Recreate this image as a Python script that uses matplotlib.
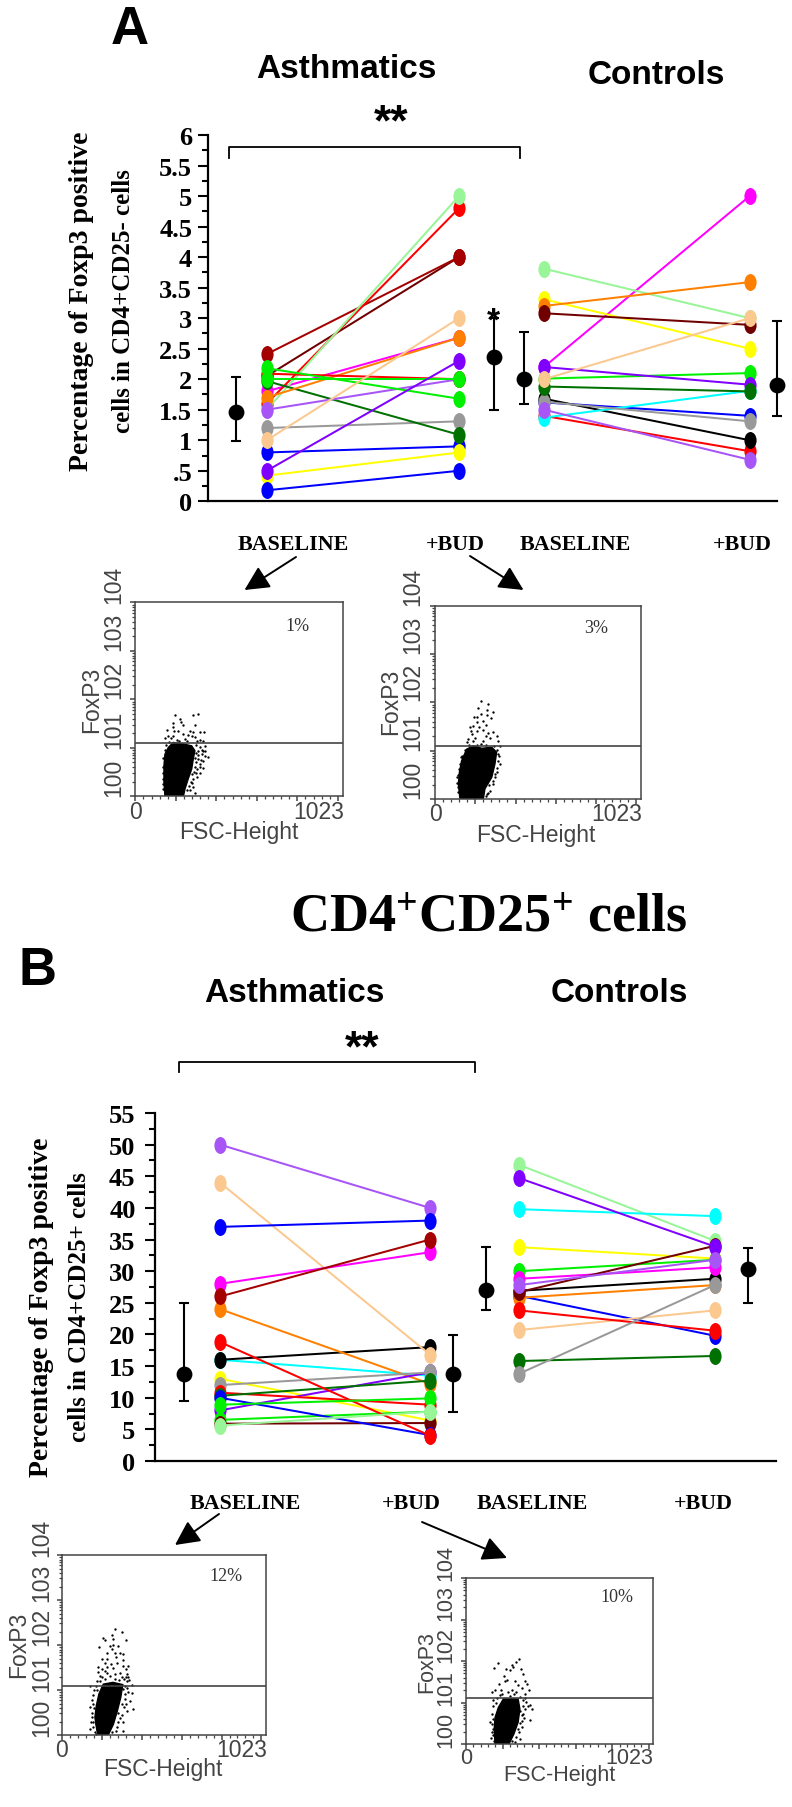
import matplotlib
matplotlib.use("Agg")
import matplotlib.pyplot as plt
from matplotlib.markers import MarkerStyle
from matplotlib.path import Path
from matplotlib.transforms import Affine2D

W, H = 792, 1808

plt.rcParams["mathtext.fontset"] = "custom"
plt.rcParams["mathtext.rm"] = "Liberation Serif:bold"
plt.rcParams["mathtext.bf"] = "Liberation Serif:bold"

SERIF = "Liberation Serif"
SANS = "Liberation Sans"
INK = "#444444"

# colours used for the subject lines
BLUE = "#0000ff"
LIME = "#00f000"
PALE = "#98f598"
DKRED = "#a50000"
MAROON = "#700000"
RED = "#ff0000"
CYAN = "#00ffff"
YEL = "#ffff00"
ORG = "#ff8000"
MAG = "#ff00ff"
PUR = "#8000ff"
MPUR = "#a855f7"
GRY = "#999999"
PEACH = "#fbc88f"
BLK = "#000000"
DKGRN = "#007000"

# ------------------------------------------------------------
# panel A, CD4+CD25- cells (list order = draw order)
# ------------------------------------------------------------
A_ASTHMA_COLORS = [GRY, BLUE, YEL, MAG, MAROON, DKRED, RED, PALE, DKGRN, ORG, MPUR, RED, LIME, LIME, PEACH, PUR, BLUE]
A_ASTHMA_BASE = [1.2, 0.8, 0.42, 1.8, 2.05, 2.41, 1.6, 1.5, 1.97, 1.7, 1.5, 2.09, 2.0, 2.18, 1.0, 0.5, 0.18]
A_ASTHMA_BUD = [1.31, 0.9, 0.8, 2.68, 4.0, 4.0, 4.8, 5.0, 1.09, 2.68, 2.0, 2.0, 2.0, 1.68, 3.0, 2.3, 0.5]

A_CTRL_COLORS = [MAG, PALE, YEL, ORG, MAROON, LIME, BLUE, RED, BLK, CYAN, GRY, MPUR, PUR, DKGRN, PEACH]
A_CTRL_BASE = [2.2, 3.81, 3.31, 3.2, 3.08, 2.01, 1.62, 1.4, 1.68, 1.37, 1.63, 1.5, 2.2, 1.88, 2.0]
A_CTRL_BUD = [5.0, 3.0, 2.5, 3.59, 2.89, 2.1, 1.4, 0.82, 1.0, 1.81, 1.31, 0.68, 1.91, 1.8, 3.0]

# mean, low, high for baseline/bud in each group
A_MEANS = [1.47, 2.36, 2.0, 1.91]
A_LOW = [0.98, 1.5, 1.59, 1.39]
A_HIGH = [2.03, 3.0, 2.78, 2.96]
A_TICKS = [0, 0.5, 1, 1.5, 2, 2.5, 3, 3.5, 4, 4.5, 5, 5.5, 6]
A_TICK_LABELS = ["0", ".5", "1", "1.5", "2", "2.5", "3", "3.5", "4", "4.5", "5", "5.5", "6"]

# ------------------------------------------------------------
# panel B, CD4+CD25+ cells
# ------------------------------------------------------------
B_ASTHMA_COLORS = [YEL, CYAN, BLK, PEACH, ORG, PUR, GRY, RED, DKGRN, MPUR, BLUE, MAG, DKRED, LIME, MAROON, BLUE, RED, LIME, PALE]
B_ASTHMA_BASE = [13, 16, 16, 44, 24, 8, 12, 10.8, 10.3, 50, 37, 28, 26, 6.5, 5.9, 10, 18.8, 8.9, 5.6]
B_ASTHMA_BUD = [6.4, 13.5, 18, 16.8, 12.2, 14, 14, 8.9, 12.7, 40, 38, 33, 35, 7.8, 6, 4.1, 4, 9.9, 7.8]

B_CTRL_COLORS = [PALE, CYAN, YEL, LIME, BLUE, ORG, PEACH, BLK, MAG, MAROON, PUR, MPUR, RED, DKGRN, GRY]
B_CTRL_BASE = [46.8, 39.8, 33.8, 30, 26.1, 25.8, 20.7, 26.9, 28.8, 26.7, 44.7, 27.8, 23.8, 15.8, 13.8]
B_CTRL_BUD = [34.8, 38.7, 32, 31.8, 19.8, 27.8, 23.8, 28.8, 30.6, 34, 33.9, 31.8, 20.6, 16.6, 27.8]

B_MEANS = [13.75, 13.75, 27, 30.3]
B_LOW = [9.5, 7.7, 23.9, 25]
B_HIGH = [25, 19.9, 33.8, 33.6]
B_TICKS = list(range(0, 60, 5))
B_TICK_LABELS = [str(v) for v in B_TICKS]

# ------------------------------------------------------------
# flow plots: FSC channel and FoxP3 decade
# dense core outline + the loose dots around it, read by eye
# ------------------------------------------------------------
AL_CORE = [(146, 0), (141, 0.29), (141, 0.63), (146, 0.87), (163, 1.01), (187, 1.11), (237, 1.08),
           (278, 1.04), (294, 0.94), (286, 0.77), (278, 0.56), (261, 0.36), (245, 0.15), (237, 0)]
AL_DOTS = [(197, 1.68), (286, 1.68), (311, 1.70), (220, 1.59), (225, 1.54), (187, 1.51), (237, 1.47),
           (294, 1.46), (184, 1.42), (191, 1.35), (154, 1.37), (212, 1.34), (270, 1.34), (286, 1.32),
           (319, 1.32), (340, 1.32), (237, 1.28), (163, 1.24), (187, 1.25), (261, 1.26), (278, 1.24),
           (294, 1.22), (146, 1.20), (174, 1.20), (245, 1.18), (319, 1.17), (204, 1.17), (332, 1.13),
           (253, 1.15), (303, 1.13), (344, 1.04), (319, 1.01), (335, 0.94), (360, 0.82), (327, 0.87),
           (344, 0.84), (311, 0.77), (319, 0.67), (332, 0.58), (303, 0.56), (319, 0.49), (286, 0.36),
           (303, 0.39), (266, 0.22), (286, 0.19), (253, 0.12), (294, 0.07), (135, 0.25), (138, 0.15),
           (144, 0.70), (135, 0.49), (311, 0.94), (294, 0.80), (319, 0.60), (278, 0.46),
           (300, 0.90), (308, 0.85), (300, 0.70), (295, 0.60), (300, 0.48), (288, 0.50), (275, 0.30),
           (270, 0.12), (280, 0.28), (322, 0.75), (332, 0.72), (330, 0.95), (345, 0.93), (136, 0.36),
           (135, 0.60), (136, 0.78), (148, 0.95), (152, 1.05), (168, 1.12), (215, 1.13), (300, 1.05)]

AR_CORE = [(124, 0), (116, 0.31), (121, 0.55), (132, 0.79), (157, 1.03), (190, 1.10), (232, 1.05),
           (282, 1.07), (306, 0.97), (298, 0.73), (282, 0.45), (248, 0.21), (240, 0)]
AR_DOTS = [(227, 2.02), (265, 1.96), (215, 1.88), (260, 1.85), (286, 1.81), (227, 1.76), (257, 1.74),
           (194, 1.69), (210, 1.69), (240, 1.61), (277, 1.67), (210, 1.59), (174, 1.50), (190, 1.52),
           (253, 1.53), (220, 1.50), (177, 1.41), (207, 1.41), (237, 1.43), (265, 1.37), (290, 1.39),
           (182, 1.35), (310, 1.31), (253, 1.30), (166, 1.24), (199, 1.26), (240, 1.21), (273, 1.26),
           (161, 1.17), (190, 1.19), (311, 1.19), (227, 1.14), (323, 1.10), (315, 0.93), (323, 0.73),
           (306, 0.55), (315, 0.79), (290, 0.31), (273, 0.17), (257, 0.10), (128, 0.86), (121, 0.62),
           (111, 0.45), (114, 0.24), (298, 0.45), (282, 0.62),
           (310, 1.02), (318, 0.88), (308, 0.65), (300, 0.52), (288, 0.38), (270, 0.30), (262, 0.12),
           (252, 0.06), (112, 0.15), (110, 0.33), (116, 0.50), (124, 0.72), (136, 0.90), (148, 1.02),
           (168, 1.12), (210, 1.12), (255, 1.12), (295, 1.10)]

BL_CORE = [(175, 0.10), (165, 0.39), (172, 0.65), (185, 0.91), (207, 1.13), (255, 1.17), (305, 1.12),
           (295, 0.84), (278, 0.54), (258, 0.24), (232, 0), (182, 0)]
BL_DOTS = [(265, 2.36), (302, 2.30), (252, 2.22), (207, 2.15), (257, 2.13), (319, 2.12), (215, 2.11),
           (185, 1.95), (240, 1.97), (257, 1.99), (282, 1.97), (252, 1.91), (227, 1.82), (265, 1.82),
           (290, 1.82), (307, 1.80), (269, 1.73), (224, 1.70), (199, 1.69), (304, 1.67), (215, 1.60),
           (244, 1.58), (277, 1.61), (182, 1.52), (199, 1.47), (227, 1.52), (257, 1.50), (307, 1.53),
           (332, 1.53), (320, 1.47), (182, 1.39), (215, 1.42), (290, 1.37), (324, 1.36), (332, 1.30),
           (190, 1.32), (240, 1.32), (265, 1.36), (299, 1.28), (190, 1.21), (215, 1.24), (324, 1.19),
           (349, 1.12), (140, 1.10), (174, 0.99), (307, 1.02), (332, 0.95), (349, 0.93), (148, 0.78),
           (157, 0.69), (315, 0.80), (340, 0.75), (354, 0.58), (299, 0.69), (148, 0.50), (282, 0.50),
           (324, 0.54), (157, 0.28), (140, 0.13), (304, 0.28), (304, 0.10), (274, 0.17), (165, 0.06),
           (320, 1.30), (310, 1.24), (335, 1.22), (318, 1.10), (328, 1.05), (315, 0.92), (322, 0.70),
           (310, 0.62), (300, 0.45), (292, 0.38), (280, 0.30), (270, 0.08), (250, 0.06), (160, 1.00),
           (168, 1.10), (178, 1.20), (200, 1.28), (228, 1.38), (265, 1.25), (285, 1.22), (155, 0.88),
           (160, 0.60), (152, 0.40), (155, 0.18), (168, 0.24), (142, 0.62), (145, 0.30), (170, 0.02)]

BR_CORE = [(159, 0), (154, 0.36), (159, 0.64), (177, 0.88), (205, 1.09), (285, 1.09), (295, 0.84),
           (285, 0.52), (262, 0.24), (235, 0), (168, 0)]
BR_DOTS = [(290, 2.06), (177, 1.95), (274, 1.97), (254, 1.91), (154, 1.82), (219, 1.81), (299, 1.81),
           (259, 1.85), (241, 1.78), (208, 1.63), (310, 1.69), (223, 1.55), (268, 1.53), (323, 1.53),
           (183, 1.45), (214, 1.51), (336, 1.45), (287, 1.41), (141, 1.25), (159, 1.29), (190, 1.31),
           (250, 1.31), (305, 1.34), (347, 1.29), (196, 1.20), (232, 1.25), (274, 1.26), (323, 1.20),
           (146, 1.07), (296, 1.13), (323, 1.10), (350, 0.94), (341, 0.92), (296, 0.80), (360, 0.84),
           (314, 0.72), (350, 0.59), (305, 0.56), (141, 0.72), (132, 0.52), (146, 0.36), (305, 0.40),
           (292, 0.28), (137, 0.14), (154, 0.08), (296, 0.11), (268, 0.04), (177, 0.16), (214, 0.04),
           (310, 1.05), (330, 1.02), (312, 0.92), (325, 0.85), (305, 0.70), (318, 0.62), (298, 0.50),
           (285, 0.35), (275, 0.18), (250, 0.08), (165, 1.00), (150, 0.92), (170, 1.12), (185, 1.18),
           (240, 1.15), (260, 1.20), (148, 0.60), (142, 0.48), (150, 0.22), (142, 0.30), (165, 0.05)]

DECADE_LABELS = ["100", "101", "102", "103", "104"]
GATE_DECADE = 1.10

# tall oval used for the subject markers
OVAL = Path.unit_circle().transformed(Affine2D().scale(0.72, 1.0))


def ax_at(fig, left, top, right, bottom):
    return fig.add_axes([left / W, 1 - bottom / H, (right - left) / W, (bottom - top) / H], facecolor="none")


def draw_group(ax, x0, x1, colors, base, bud):
    for c, a, b in zip(colors, base, bud):
        ax.plot([x0, x1], [a, b], color=c, lw=1.45, marker=MarkerStyle(OVAL), ms=12.2, mew=0,
                solid_capstyle="butt", clip_on=False)


def draw_main(ax, xlim, ylim, ticks, labels, minor, xs, means, lows, highs, pad):
    ax.set_xlim(*xlim)
    ax.set_ylim(*ylim)
    ax.set_xticks([])
    ax.set_yticks(ticks, labels, family=SERIF, weight="bold", fontsize=19)
    ax.set_yticks(minor, minor=True)
    ax.tick_params(axis="y", which="major", length=7, width=1.5, pad=pad)
    ax.tick_params(axis="y", which="minor", length=4.5, width=1.5)
    for s in ("top", "right"):
        ax.spines[s].set_visible(False)
    for s in ("left", "bottom"):
        ax.spines[s].set_linewidth(1.6)
    for x, m, lo, hi in zip(xs, means, lows, highs):
        ax.errorbar([x], [m], yerr=[[m - lo], [hi - m]], fmt="o", color="k", ms=10.4,
                    elinewidth=1.5, capsize=3.8, capthick=1.5, clip_on=False, zorder=5)


def draw_flow(fig, canvas, box, core, dots, pct, pct_xy, label_x, label_ys, fox_xy, zero_y, fsc_xy, fs):
    left, top, right, bottom = box
    ax = ax_at(fig, left, top, right, bottom)
    ax.set_xlim(0, 1023)
    ax.set_ylim(0, 4)
    ax.fill([p[0] for p in core], [p[1] for p in core], color="k", lw=1.0)
    ax.plot([p[0] for p in dots], [p[1] for p in dots], ls="none", marker="o", ms=1.7, mew=0, color="k")
    ax.axhline(GATE_DECADE, color=INK, lw=1.2)
    ax.set_xticks(range(0, 1024, 200))
    ax.set_xticks(range(0, 1024, 40), minor=True)
    ax.set_yticks(range(0, 5))
    decades = [d + s for d in range(4) for s in (0.30, 0.48, 0.60, 0.70, 0.78, 0.85, 0.90, 0.95)]
    ax.set_yticks(decades, minor=True)
    ax.tick_params(which="major", length=3.5, width=1.1, color=INK, labelleft=False, labelbottom=False)
    ax.tick_params(which="minor", length=2, width=0.9, color=INK)
    for s in ax.spines.values():
        s.set_linewidth(1.1)
        s.set_color(INK)

    txt = dict(family=SANS, color=INK, ha="center", va="center")
    for lab, y in zip(DECADE_LABELS, label_ys):
        canvas.text(label_x, y, lab, rotation=90, fontsize=fs, **txt)
    canvas.text(fox_xy[0], fox_xy[1], "FoxP3", rotation=90, fontsize=fs, **txt)
    canvas.text(left, zero_y, "0", fontsize=fs, **txt)
    canvas.text(right - 24, zero_y, "1023", fontsize=fs, **txt)
    canvas.text(fsc_xy[0], fsc_xy[1], "FSC-Height", fontsize=fs, **txt)
    canvas.text(pct_xy[0], pct_xy[1], pct, family=SERIF, fontsize=13, color="#333333", ha="center", va="center")


def bracket(canvas, x0, x1, y, tick):
    canvas.plot([x0, x0, x1, x1], [y + tick, y, y, y + tick], color="k", lw=1.3)


def arrow(canvas, start, tip):
    canvas.annotate("", xy=tip, xytext=start,
                    arrowprops=dict(arrowstyle="-|>,head_length=1.0,head_width=0.5", color="k", lw=1.4,
                                    shrinkA=0, shrinkB=0, mutation_scale=15))


def main():
    fig = plt.figure(figsize=(W / 100, H / 100), dpi=100, facecolor="white")

    canvas = fig.add_axes([0, 0, 1, 1])
    canvas.set_xlim(0, W)
    canvas.set_ylim(H, 0)
    canvas.axis("off")

    head = dict(family=SANS, weight="bold", ha="center", va="center", color="k")
    bold = dict(family=SERIF, weight="bold", ha="center", va="center", color="k")

    # ---------- panel A ----------
    canvas.text(130, 30, "A", fontsize=38, **head)
    canvas.text(346, 69, "Asthmatics", fontsize=24, **head)
    canvas.text(656, 75, "Controls", fontsize=24, **head)
    bracket(canvas, 229, 520, 148, 11)
    canvas.text(391, 124, "**", fontsize=32, **head)
    canvas.text(493, 322, "*", fontsize=24, **head)

    ax = ax_at(fig, 207.5, 136, 777, 502.3)
    draw_main(ax, (207.5, 777), (0, 6), A_TICKS, A_TICK_LABELS, [v * 0.25 for v in range(25)],
              [236, 493.7, 524.3, 777], A_MEANS, A_LOW, A_HIGH, 4)
    draw_group(ax, 266.7, 459, A_ASTHMA_COLORS, A_ASTHMA_BASE, A_ASTHMA_BUD)
    draw_group(ax, 544, 749.7, A_CTRL_COLORS, A_CTRL_BASE, A_CTRL_BUD)

    canvas.text(82, 301, "Percentage of Foxp3 positive", rotation=90, fontsize=20, **bold)
    canvas.text(123, 301, "cells in CD4+CD25- cells", rotation=90, fontsize=18, **bold)

    for x, lab in zip([293, 455, 575, 742], ["BASELINE", "+BUD", "BASELINE", "+BUD"]):
        canvas.text(x, 545, lab, fontsize=15.8, **bold)

    arrow(canvas, (296, 558), (244.5, 591))
    arrow(canvas, (470, 557), (523.5, 591))

    draw_flow(fig, canvas, (135.4, 603.3, 342.5, 797.3), AL_CORE, AL_DOTS, "1%", (297, 627),
              113.6, [778, 730, 680, 632, 585], (92, 700), 813, (238.6, 833), 16.5)
    draw_flow(fig, canvas, (435, 606.7, 641, 800), AR_CORE, AR_DOTS, "3%", (595.7, 629),
              413, [780, 732, 682, 635, 587], (391, 702), 815, (536, 836), 16.5)

    # ---------- panel B ----------
    canvas.text(489, 918, r"$\mathbf{CD4^{+}CD25^{+}}$ cells", fontsize=39, **bold)
    canvas.text(37, 971, "B", fontsize=38, **head)
    canvas.text(294, 994, "Asthmatics", fontsize=24, **head)
    canvas.text(619, 994, "Controls", fontsize=24, **head)
    bracket(canvas, 179, 475, 1062.7, 10)
    canvas.text(362, 1050, "**", fontsize=32, **head)

    ax = ax_at(fig, 155, 1114, 776, 1462)
    draw_main(ax, (155, 776), (0, 55), B_TICKS, B_TICK_LABELS, [v * 2.5 for v in range(23)],
              [184, 453.3, 485.7, 747.7], B_MEANS, B_LOW, B_HIGH, 7)
    draw_group(ax, 220, 430, B_ASTHMA_COLORS, B_ASTHMA_BASE, B_ASTHMA_BUD)
    draw_group(ax, 519.3, 714.7, B_CTRL_COLORS, B_CTRL_BASE, B_CTRL_BUD)

    canvas.text(42, 1307, "Percentage of Foxp3 positive", rotation=90, fontsize=20, **bold)
    canvas.text(80, 1307, "cells in CD4+CD25+ cells", rotation=90, fontsize=18, **bold)

    for x, lab in zip([245, 411, 532, 703], ["BASELINE", "+BUD", "BASELINE", "+BUD"]):
        canvas.text(x, 1504, lab, fontsize=15.8, **bold)

    arrow(canvas, (219, 1515), (175, 1546))
    arrow(canvas, (422, 1523), (507, 1559))

    draw_flow(fig, canvas, (62, 1556, 266, 1736), BL_CORE, BL_DOTS, "12%", (226, 1577),
              41.5, [1718, 1673, 1627, 1583, 1538], (19, 1645), 1751, (163, 1770), 16.5)
    draw_flow(fig, canvas, (466, 1579, 653, 1745), BR_CORE, BR_DOTS, "10%", (617, 1598),
              445.6, [1730, 1688, 1645, 1603, 1563], (427, 1662), 1759, (559.5, 1776), 15.5)

    fig.savefig("out.png", dpi=100)


if __name__ == "__main__":
    main()
